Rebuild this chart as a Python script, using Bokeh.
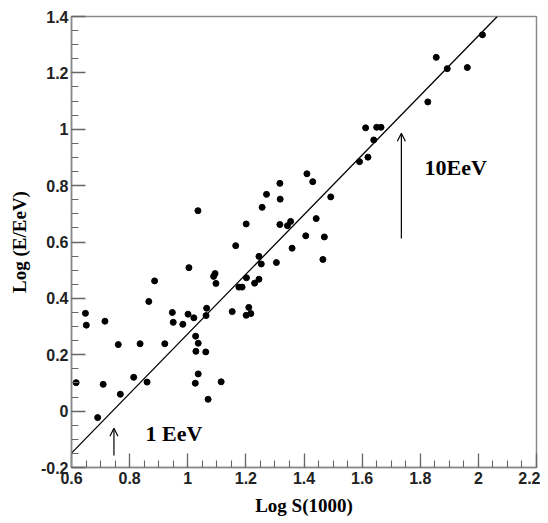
from bokeh.plotting import figure
from bokeh.models import FixedTicker, Range1d, Label, Arrow, OpenHead
from bokeh.embed import file_html
from bokeh.resources import INLINE

# Scatter data: Log S(1000) vs Log(E/EeV)
log_s = [0.648, 0.651, 0.715, 0.866, 0.886, 0.947, 0.950, 0.983, 1.001, 1.021,
         0.761, 0.836, 0.921, 0.616, 0.709, 0.814, 0.860, 0.768, 0.690,
         1.065, 1.063, 1.153, 1.210, 1.201, 1.217, 1.027, 1.036, 1.028, 1.062,
         1.036, 1.026, 1.115, 1.070, 1.035, 1.317, 1.271, 1.318, 1.256, 1.201,
         1.317, 1.343, 1.354, 1.165, 1.359, 1.245, 1.253, 1.305, 1.004, 1.094,
         1.089, 1.097, 1.202, 1.245, 1.230, 1.176, 1.187, 1.612, 1.650, 1.665,
         1.640, 1.591, 1.620, 1.410, 1.430, 1.492, 1.442, 1.406, 1.470, 1.465,
         1.855, 1.893, 1.962, 1.826, 2.014]
log_e = [0.347, 0.305, 0.319, 0.389, 0.462, 0.350, 0.315, 0.308, 0.344, 0.331,
         0.236, 0.239, 0.239, 0.101, 0.095, 0.120, 0.103, 0.060, -0.023,
         0.365, 0.339, 0.353, 0.368, 0.340, 0.346, 0.266, 0.241, 0.212, 0.210,
         0.132, 0.099, 0.104, 0.042, 0.711, 0.808, 0.769, 0.752, 0.723, 0.664,
         0.662, 0.658, 0.673, 0.587, 0.578, 0.549, 0.522, 0.527, 0.509, 0.488,
         0.478, 0.453, 0.473, 0.468, 0.454, 0.440, 0.440, 1.005, 1.007, 1.007,
         0.962, 0.885, 0.901, 0.842, 0.814, 0.760, 0.683, 0.622, 0.618, 0.538,
         1.255, 1.215, 1.219, 1.097, 1.335]

# Fit line endpoints
fit_x = [0.6, 2.065]
fit_y = [-0.149, 1.40]

# Ticks
x_ticks = [0.6, 0.8, 1.0, 1.2, 1.4, 1.6, 1.8, 2.0, 2.2]
x_labels = ["0.6", "0.8", "1", "1.2", "1.4", "1.6", "1.8", "2", "2.2"]
y_ticks = [-0.2, 0.0, 0.2, 0.4, 0.6, 0.8, 1.0, 1.2, 1.4]
y_labels = ["-0.2", "0", "0.2", "0.4", "0.6", "0.8", "1", "1.2", "1.4"]
x_minor = [round(0.6 + 0.05 * i, 3) for i in range(33)]
y_minor = [round(-0.2 + 0.05 * i, 3) for i in range(33)]

# Annotations
arrow_1eev = dict(x=0.746, y0=-0.157, y1=-0.061, text="1 EeV", tx=0.855, ty=-0.079)
arrow_10eev = dict(x=1.735, y0=0.612, y1=0.986, text="10EeV", tx=1.815, ty=0.865)

p = figure(frame_width=465, frame_height=451, output_backend="svg",
           toolbar_location=None, x_range=Range1d(0.6, 2.2), y_range=Range1d(-0.2, 1.4),
           min_border_left=71, min_border_top=16, min_border_right=4, min_border_bottom=40)
p.background_fill_color = "white"
p.border_fill_color = "white"
p.outline_line_color = "#8a8a8a"
p.outline_line_width = 1.5
p.xgrid.visible = False
p.ygrid.visible = False

p.xaxis.ticker = FixedTicker(ticks=x_ticks, minor_ticks=x_minor)
p.yaxis.ticker = FixedTicker(ticks=y_ticks, minor_ticks=y_minor)
p.xaxis.major_label_overrides = {t: l for t, l in zip(x_ticks, x_labels)}
p.yaxis.major_label_overrides = {t: l for t, l in zip(y_ticks, y_labels)}

for ax in (p.xaxis, p.yaxis):
    ax.axis_line_color = "#8a8a8a"
    ax.axis_line_width = 1.5
    ax.major_tick_in = 14
    ax.major_tick_out = 0
    ax.minor_tick_in = 7
    ax.minor_tick_out = 0
    ax.major_tick_line_color = "#666666"
    ax.minor_tick_line_color = "#666666"
    ax.major_tick_line_width = 1.3
    ax.minor_tick_line_width = 1.1
    ax.major_label_text_font = "Liberation Sans"
    ax.major_label_text_font_style = "bold"
    ax.major_label_text_font_size = "16px"
    ax.major_label_text_color = "#222222"
    ax.axis_label_text_font = "Liberation Serif"
    ax.axis_label_text_font_style = "bold"
    ax.axis_label_text_font_size = "19px"
    ax.axis_label_text_color = "black"

p.xaxis.major_label_standoff = 4
p.yaxis.major_label_standoff = 3
p.xaxis.axis_label = "Log S(1000)"
p.yaxis.axis_label = "Log (E/EeV)"
p.xaxis.axis_label_standoff = 8
p.yaxis.axis_label_standoff = 8

p.line(fit_x, fit_y, line_color="black", line_width=1.3)
p.scatter(log_s, log_e, size=6, color="black")

for a in (arrow_1eev, arrow_10eev):
    p.add_layout(Arrow(end=OpenHead(size=8, line_width=1.2, line_color="black"),
                       x_start=a["x"], y_start=a["y0"], x_end=a["x"], y_end=a["y1"],
                       line_width=1.2, line_color="black"))
    p.add_layout(Label(x=a["tx"], y=a["ty"], text=a["text"], text_align="left",
                       text_baseline="middle", text_font="Liberation Serif",
                       text_font_style="bold", text_font_size="22px", text_color="black"))

open("out.html", "w").write(file_html(p, INLINE))
